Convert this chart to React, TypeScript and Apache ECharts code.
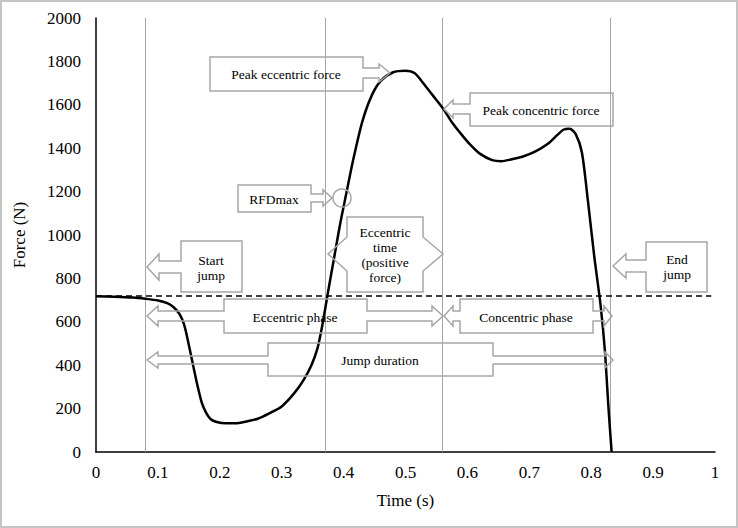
import React, { useEffect, useRef } from "react";
import * as echarts from "echarts";

const times = [0, 0.03, 0.06, 0.08, 0.1, 0.115, 0.125, 0.135, 0.142, 0.148, 0.155, 0.163, 0.171, 0.178, 0.185, 0.195, 0.21, 0.225, 0.245, 0.26, 0.28, 0.3, 0.32, 0.335, 0.348, 0.358, 0.366, 0.375, 0.385, 0.395, 0.405, 0.415, 0.43, 0.445, 0.46, 0.48, 0.5, 0.515, 0.53, 0.545, 0.56, 0.575, 0.59, 0.605, 0.62, 0.64, 0.655, 0.67, 0.69, 0.71, 0.73, 0.745, 0.755, 0.765, 0.775, 0.785, 0.795, 0.805, 0.815, 0.822, 0.828, 0.833];
const forces = [718, 716, 712, 706, 698, 686, 668, 635, 590, 520, 425, 318, 226, 180, 152, 138, 132, 132, 142, 152, 178, 210, 270, 330, 400, 480, 590, 740, 900, 1060, 1200, 1340, 1520, 1640, 1710, 1750, 1757, 1745, 1695, 1640, 1585, 1520, 1465, 1415, 1375, 1345, 1340, 1348, 1362, 1385, 1420, 1460, 1485, 1490, 1465, 1380, 1150, 900, 680, 470, 200, 0];
const phaseTimes = [0.084, 0.374, 0.563, 0.834];
const bodyWeight = 720;
const xTicks = ["0", "0.1", "0.2", "0.3", "0.4", "0.5", "0.6", "0.7", "0.8", "0.9", "1"];

const FONT = "'Liberation Serif', 'Times New Roman', serif";
const GRAY = "#a6a6a6";

type Pt = [number, number];

function leftArrow(tipX: number, cy: number, backX: number, hh: number, sh: number, boxL: number): Pt[] {
  return [
    [boxL, cy + sh], [backX, cy + sh], [backX, cy + hh], [tipX, cy], [backX, cy - hh], [backX, cy - sh], [boxL, cy - sh],
  ];
}
function rightArrow(tipX: number, cy: number, backX: number, hh: number, sh: number, boxR: number): Pt[] {
  return [
    [boxR, cy - sh], [backX, cy - sh], [backX, cy - hh], [tipX, cy], [backX, cy + hh], [backX, cy + sh], [boxR, cy + sh],
  ];
}
function callout(l: number, t: number, r: number, b: number, left?: [number, number, number, number, number], right?: [number, number, number, number, number]): Pt[] {
  const pts: Pt[] = [[l, t], [r, t]];
  if (right) pts.push(...rightArrow(right[0], right[1], right[2], right[3], right[4], r));
  pts.push([r, b], [l, b]);
  if (left) pts.push(...leftArrow(left[0], left[1], left[2], left[3], left[4], l));
  return pts;
}

function poly(points: Pt[]) {
  return {
    type: "polygon",
    shape: { points },
    style: { fill: "none", stroke: GRAY, lineWidth: 1.5 },
    z: 50,
  };
}
function label(text: string, x: number, y: number) {
  return {
    type: "text",
    x,
    y,
    style: { text, font: `13.5px ${FONT}`, fill: "#000", align: "center", verticalAlign: "middle", lineHeight: 15 },
    z: 51,
  };
}

export default function App() {
  const ref = useRef<HTMLDivElement>(null);
  useEffect(() => {
    document.body.style.margin = "0";
    const chart = echarts.init(ref.current!, null, { renderer: "svg" });
    const data = times.map((t, i) => [t, forces[i]]);
    chart.setOption({
      animation: false,
      backgroundColor: "#fff",
      grid: { left: 96, right: 23, top: 18, bottom: 76 },
      xAxis: {
        type: "value",
        min: 0,
        max: 1,
        interval: 0.1,
        name: "Time (s)",
        nameLocation: "middle",
        nameGap: 40,
        nameTextStyle: { fontFamily: FONT, fontSize: 17, color: "#000" },
        axisLine: { lineStyle: { color: "#000", width: 1.5 } },
        axisTick: { show: false },
        splitLine: { show: false },
        axisLabel: {
          fontFamily: FONT,
          fontSize: 17,
          color: "#000",
          margin: 12,
          formatter: (v: number) => xTicks[Math.round(v * 10)] ?? String(v),
        },
      },
      yAxis: {
        type: "value",
        min: 0,
        max: 2000,
        interval: 200,
        name: "Force (N)",
        nameLocation: "middle",
        nameGap: 68,
        nameTextStyle: { fontFamily: FONT, fontSize: 17, color: "#000" },
        axisLine: { show: true, lineStyle: { color: "#000", width: 1.5 } },
        axisTick: { show: false },
        splitLine: { show: false },
        axisLabel: { fontFamily: FONT, fontSize: 17, color: "#000", margin: 15, formatter: (v: number) => String(v) },
      },
      series: [
        {
          type: "line",
          data,
          symbol: "none",
          smooth: 0.25,
          lineStyle: { color: "#000", width: 2.5 },
          z: 10,
          markLine: {
            silent: true,
            symbol: "none",
            label: { show: false },
            data: [
              ...phaseTimes.map((t) => ({ xAxis: t, lineStyle: { color: GRAY, width: 1, type: "solid" } })),
              [
                { coord: [0, bodyWeight], lineStyle: { color: "#000", width: 1.5, type: [6, 4] } },
                { coord: [0.994, bodyWeight] },
              ],
            ],
          },
        },
      ],
      graphic: [
        {
          type: "rect",
          shape: { x: 1, y: 1, width: 736, height: 526 },
          style: { fill: "none", stroke: "#c4c4c4", lineWidth: 2 },
          z: 100,
        },
        poly(callout(210, 57, 363, 91, undefined, [390, 73, 379, 9, 5])),
        label("Peak eccentric force", 286, 74),
        poly(callout(470, 93, 613, 126, [444, 109, 453, 9, 5])),
        label("Peak concentric force", 541, 110),
        poly(callout(238, 185, 311, 212, undefined, [332, 198, 323, 8, 4])),
        label("RFDmax", 274, 199),
        {
          type: "circle",
          shape: { cx: 342, cy: 198, r: 9 },
          style: { fill: "none", stroke: GRAY, lineWidth: 1.5 },
          z: 50,
        },
        poly(callout(347, 217, 423, 292, [328, 254, 347, 17, 17], [443, 254, 423, 17, 17])),
        label("Eccentric\ntime\n(positive\nforce)", 385, 255),
        poly(callout(181, 241, 242, 292, [147, 267, 159, 13, 6])),
        label("Start\njump", 211, 268),
        poly(callout(646, 242, 707, 292, [613, 266, 626, 12, 6])),
        label("End\njump", 677, 267),
        poly(callout(224, 299, 367, 333, [147, 316, 158, 10, 5], [443, 316, 432, 10, 5])),
        label("Eccentric phase", 295, 317),
        poly(callout(460, 299, 593, 333, [444, 316, 453, 10, 5], [612, 316, 604, 10, 5])),
        label("Concentric phase", 526, 317),
        poly(callout(268, 343, 493, 376, [147, 360, 158, 8, 4], [613, 360, 605, 8, 4])),
        label("Jump duration", 380, 360),
      ],
    });
    return () => chart.dispose();
  }, []);
  return <div ref={ref} style={{ position: "absolute", left: 0, top: 0, width: 738, height: 528 }} />;
}
